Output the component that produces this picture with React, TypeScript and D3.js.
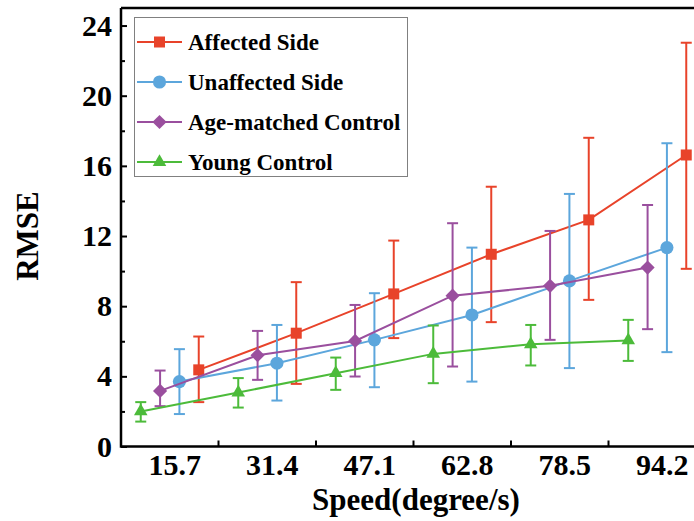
import { useEffect, useRef } from "react";
import * as d3 from "d3";

const width = 694;
const height = 521;
const marginLeft = 121;
const marginTop = 8;
const chartBottomY = 446.5;
const bandStep = 97.5;

// speeds on the x axis (degree/s)
const speeds = ["15.7", "31.4", "47.1", "62.8", "78.5", "94.2"];
const yTicks = [0, 4, 8, 12, 16, 20, 24];
const yMinorTicks = [2, 6, 10, 14, 18, 22];

// RMSE means and error bar ends
const affected = [4.37, 6.46, 8.7, 10.96, 12.92, 16.62];
const affectedHi = [6.27, 9.37, 11.74, 14.81, 17.6, 23.02];
const affectedLo = [2.53, 3.57, 6.18, 7.09, 8.36, 10.13];

const unaffected = [3.7, 4.75, 6.08, 7.5, 9.44, 11.34];
const unaffectedHi = [5.55, 6.93, 8.74, 11.34, 14.4, 17.29];
const unaffectedLo = [1.85, 2.62, 3.38, 3.7, 4.47, 5.38];

const ageMatched = [3.17, 5.2, 6.02, 8.6, 9.16, 10.2];
const ageMatchedHi = [4.33, 6.59, 8.07, 12.73, 12.29, 13.77];
const ageMatchedLo = [2.3, 3.8, 3.99, 4.56, 6.08, 6.69];

const young = [2.0, 3.08, 4.18, 5.28, 5.83, 6.05];
const youngHi = [2.53, 3.9, 5.07, 6.9, 6.93, 7.22];
const youngLo = [1.42, 2.22, 3.23, 3.61, 4.62, 4.88];

const seriesNames = ["Affected Side", "Unaffected Side", "Age-matched Control", "Young Control"];
// order of the markers inside one speed group, left to right
const groupOrder = ["Young Control", "Age-matched Control", "Unaffected Side", "Affected Side"];

const series = [
  { name: "Affected Side", values: affected, hi: affectedHi, lo: affectedLo, color: "#e8432a", symbol: "square" },
  { name: "Unaffected Side", values: unaffected, hi: unaffectedHi, lo: unaffectedLo, color: "#5ca6dc", symbol: "circle" },
  { name: "Age-matched Control", values: ageMatched, hi: ageMatchedHi, lo: ageMatchedLo, color: "#9a4f9e", symbol: "diamond" },
  { name: "Young Control", values: young, hi: youngHi, lo: youngLo, color: "#4cbb3a", symbol: "triangle" },
];

const font = "'Liberation Serif', 'Times New Roman', serif";

const symbolPath = (kind: string) => {
  if (kind === "square") return d3.symbol(d3.symbolSquare, 121)();
  if (kind === "circle") return d3.symbol(d3.symbolCircle, 135)();
  if (kind === "diamond") return d3.symbol(d3.symbolSquare, 100)();
  return d3.symbol(d3.symbolTriangle, 80)();
};

const Marker = ({ kind, x, y, color }) => (
  <path
    d={symbolPath(kind) || ""}
    transform={`translate(${x},${y})${kind === "diamond" ? " rotate(45)" : ""}`}
    fill={color}
  />
);

const App = () => {
  const yAxisRef = useRef(null);
  const yMinorRef = useRef(null);

  const xScale = d3
    .scaleBand()
    .domain(speeds)
    .range([marginLeft, marginLeft + bandStep * speeds.length])
    .padding(0);

  const offset = d3.scalePoint().domain(groupOrder).range([-29, 29]);

  const yScale = d3.scaleLinear().domain([0, 25]).range([chartBottomY, marginTop]);

  const px = (name: string, i: number) =>
    (xScale(speeds[i]) as number) + xScale.bandwidth() / 2 + (offset(name) as number);

  useEffect(() => {
    const yAxis = d3.axisLeft(yScale).tickValues(yTicks).tickSize(-6).tickPadding(9);
    const g = d3.select(yAxisRef.current).call(yAxis);
    g.select(".domain").remove();
    g.selectAll("line").attr("stroke", "#000").attr("stroke-width", 2);
    g.selectAll("text")
      .attr("font-size", "30px")
      .attr("font-weight", "bold")
      .attr("font-family", font)
      .attr("fill", "#000");

    const yMinor = d3.axisLeft(yScale).tickValues(yMinorTicks).tickSize(-4).tickFormat(() => "");
    const gm = d3.select(yMinorRef.current).call(yMinor);
    gm.select(".domain").remove();
    gm.selectAll("line").attr("stroke", "#000").attr("stroke-width", 2);
  }, [yScale]);

  const legendRows = [42, 82, 122, 162];

  return (
    <svg
      width={width}
      height={height}
      viewBox={`0 0 ${width} ${height}`}
      style={{ position: "absolute", left: 0, top: 0, background: "#fff" }}
    >
      {/* axes frame */}
      <g className="y-axis" ref={yAxisRef} transform={`translate(${marginLeft},0)`} />
      <g className="y-axis-minor" ref={yMinorRef} transform={`translate(${marginLeft},0)`} />
      {speeds.slice(1).map((s) => (
        <line
          key={s}
          x1={xScale(s)}
          x2={xScale(s)}
          y1={chartBottomY}
          y2={chartBottomY - 6}
          stroke="#000"
          strokeWidth={2}
        />
      ))}
      {speeds.map((s) => (
        <text
          key={s}
          x={(xScale(s) as number) + xScale.bandwidth() / 2 + 5}
          y={475}
          textAnchor="middle"
          fontSize={30}
          fontWeight="bold"
          fontFamily={font}
        >
          {s}
        </text>
      ))}
      <path
        d={`M${marginLeft},${marginTop}H${width + 10}M${marginLeft},${marginTop}V${chartBottomY}H${width + 10}`}
        fill="none"
        stroke="#000"
        strokeWidth={2.5}
      />

      {/* series */}
      {series.map((s) => (
        <g key={s.name}>
          <path
            d={
              d3
                .line<number>()
                .x((d, i) => px(s.name, i))
                .y((d) => yScale(d))(s.values) || ""
            }
            fill="none"
            stroke={s.color}
            strokeWidth={2}
          />
          {s.values.map((v, i) => {
            const cx = px(s.name, i);
            return (
              <g key={i}>
                <line x1={cx} x2={cx} y1={yScale(s.lo[i])} y2={yScale(s.hi[i])} stroke={s.color} strokeWidth={2} />
                <line x1={cx - 5.5} x2={cx + 5.5} y1={yScale(s.hi[i])} y2={yScale(s.hi[i])} stroke={s.color} strokeWidth={2} />
                <line x1={cx - 5.5} x2={cx + 5.5} y1={yScale(s.lo[i])} y2={yScale(s.lo[i])} stroke={s.color} strokeWidth={2} />
                <Marker kind={s.symbol} x={cx} y={yScale(v)} color={s.color} />
              </g>
            );
          })}
        </g>
      ))}

      {/* legend */}
      <rect x={134.5} y={17.5} width={273} height={159} fill="#fff" stroke="#808080" strokeWidth={1} />
      {seriesNames.map((name, i) => {
        const s = series.find((d) => d.name === name);
        return (
          <g key={name}>
            <line x1={137} x2={182} y1={legendRows[i]} y2={legendRows[i]} stroke={s.color} strokeWidth={2} />
            <Marker kind={s.symbol} x={159.5} y={legendRows[i]} color={s.color} />
            <text x={188} y={legendRows[i] + 8} fontSize={23} fontWeight="bold" fontFamily={font}>
              {name}
            </text>
          </g>
        );
      })}

      {/* axis titles */}
      <text x={416} y={510} textAnchor="middle" fontSize={31} fontWeight="bold" fontFamily={font}>
        Speed(degree/s)
      </text>
      <text
        transform={`translate(38,236) rotate(-90)`}
        textAnchor="middle"
        fontSize={31}
        fontWeight="bold"
        fontFamily={font}
      >
        RMSE
      </text>
    </svg>
  );
};

export default App;
